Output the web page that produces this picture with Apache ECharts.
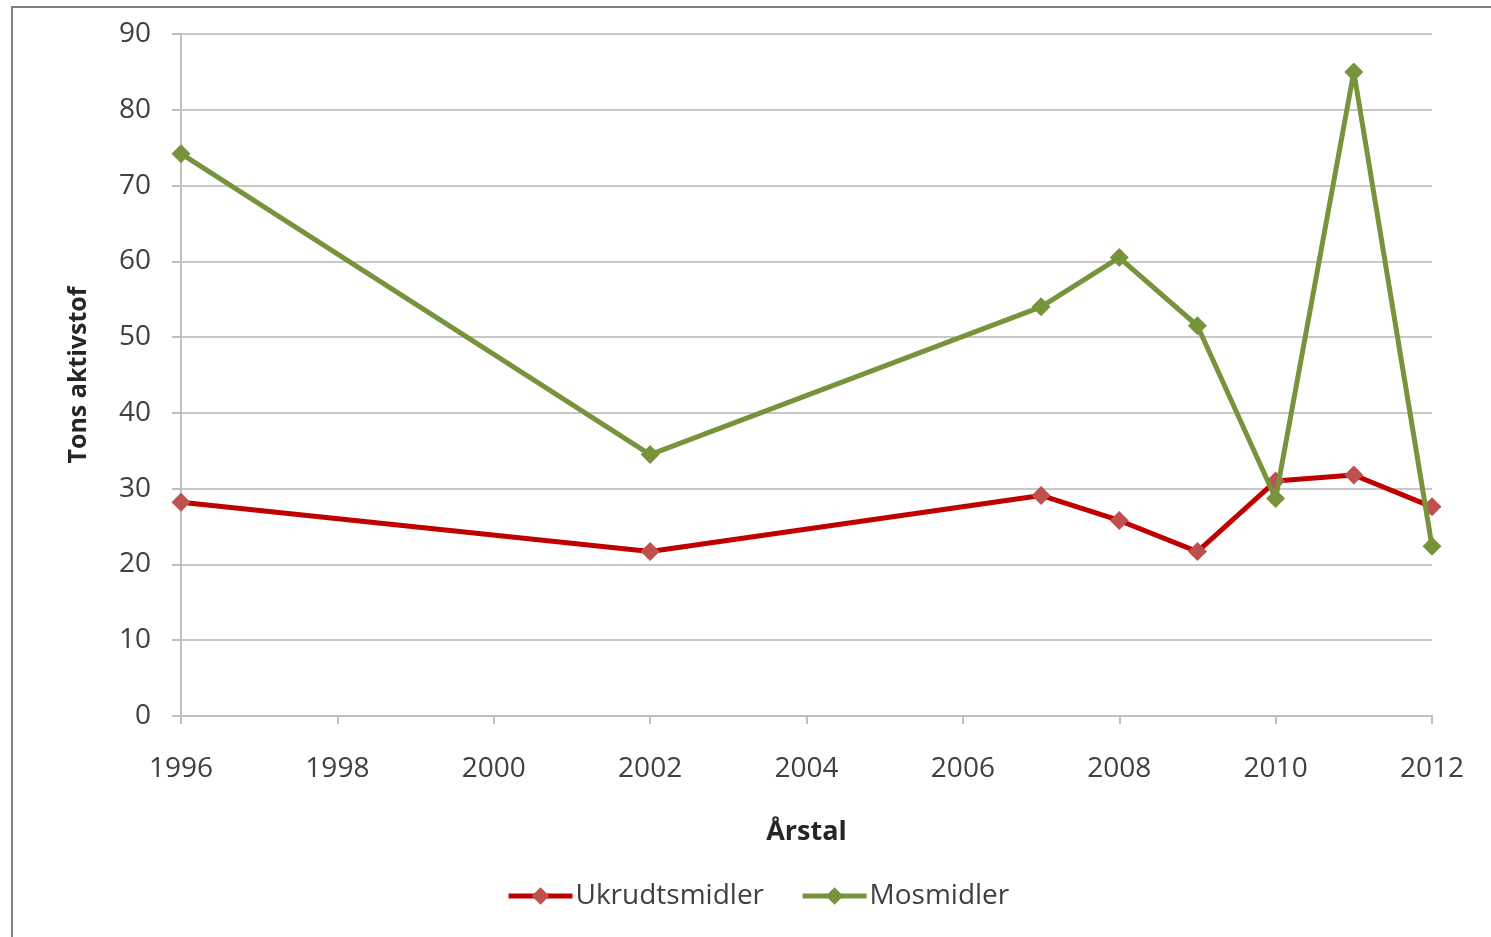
<!DOCTYPE html>
<html>
<head>
<meta charset="utf-8">
<title>Tons aktivstof</title>
<script src="https://cdn.jsdelivr.net/npm/echarts@6/dist/echarts.min.js"></script>
<style>
    html, body { margin: 0; padding: 0; background: #fff; }
    #chart { width: 1491px; height: 937px; }
</style>
</head>
<body>
<div id="chart"></div>
<script>
    // data
    var years = [1996, 2002, 2007, 2008, 2009, 2010, 2011, 2012];
    var ukrudtsmidler = [28.2, 21.7, 29.1, 25.8, 21.7, 31.0, 31.8, 27.6];
    var mosmidler = [74.2, 34.5, 54.0, 60.5, 51.5, 28.7, 85.0, 22.4];
    var seriesNames = ['Ukrudtsmidler', 'Mosmidler'];

    function pairs(xs, ys) {
        return xs.map(function (x, i) { return [x, ys[i]]; });
    }

    var font = 'Open Sans';
    var myChart = echarts.init(document.getElementById('chart'));

    myChart.setOption({
        backgroundColor: '#fff',
        animation: false,
        textStyle: { fontFamily: font },
        graphic: [{
            type: 'rect',
            shape: { x: 12, y: 7, width: 1500, height: 960 },
            style: { fill: 'none', stroke: '#808080', lineWidth: 2 },
            silent: true
        }],
        grid: { left: 181, right: 59, top: 34, bottom: 221 },
        legend: {
            data: seriesNames,
            top: 877,
            left: 501,
            itemWidth: 64,
            itemHeight: 22,
            itemGap: 36,
            lineStyle: { width: 5 },
            textStyle: { fontSize: 28, color: '#404040', fontFamily: font, padding: [0, 0, 0, -2] }
        },
        xAxis: {
            type: 'value',
            min: 1996,
            max: 2012,
            interval: 2,
            name: 'Årstal',
            nameLocation: 'middle',
            nameGap: 103,
            nameTextStyle: { fontSize: 27, fontWeight: 'bold', color: '#262626', fontFamily: font },
            axisLine: { lineStyle: { color: '#bfbfbf', width: 2 } },
            axisTick: { show: true, length: 8, lineStyle: { color: '#bfbfbf', width: 2 } },
            axisLabel: { fontSize: 28, color: '#404040', margin: 39, formatter: function (v) { return String(v); } },
            splitLine: { show: false }
        },
        yAxis: {
            type: 'value',
            min: 0,
            max: 90,
            interval: 10,
            name: 'Tons aktivstof',
            nameLocation: 'middle',
            nameGap: 90,
            nameRotate: 90,
            nameTextStyle: { fontSize: 25, fontWeight: 'bold', color: '#262626', fontFamily: font },
            axisLine: { show: true, lineStyle: { color: '#bfbfbf', width: 2 } },
            axisTick: { show: true, length: 9, lineStyle: { color: '#bfbfbf', width: 2 } },
            axisLabel: { fontSize: 28, color: '#404040', margin: 30 },
            splitLine: { lineStyle: { color: '#c8c8c8', width: 2 } }
        },
        series: [{
            name: seriesNames[0],
            type: 'line',
            data: pairs(years, ukrudtsmidler),
            symbol: 'diamond',
            symbolSize: 19,
            lineStyle: { color: '#c00000', width: 5 },
            itemStyle: { color: '#c0504d' },
            z: 2
        }, {
            name: seriesNames[1],
            type: 'line',
            data: pairs(years, mosmidler),
            symbol: 'diamond',
            symbolSize: 19,
            lineStyle: { color: '#77933c', width: 5 },
            itemStyle: { color: '#77933c' },
            z: 3
        }]
    });
</script>
</body>
</html>
